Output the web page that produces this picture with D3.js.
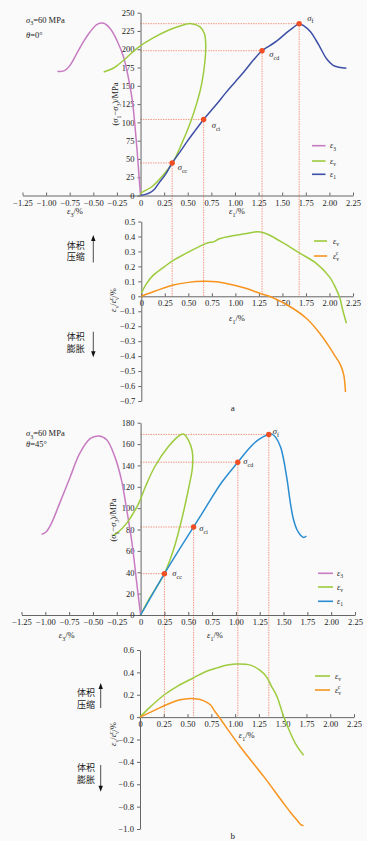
<!DOCTYPE html>
<html><head><meta charset="utf-8">
<script src="https://cdn.jsdelivr.net/npm/d3@7"></script>
<style>
body{margin:0;background:#fff}
svg{display:block}
text{font-family:"Liberation Serif","Times New Roman",serif;fill:#1a1a1a}
.cjk{font-family:"Noto Sans CJK SC",sans-serif}
</style>
</head><body>
<script>
// ---------- DATA ----------
const xTicksFull = [-1.25,-1,-0.75,-0.5,-0.25,0,0.25,0.5,0.75,1,1.25,1.5,1.75,2,2.25];
const xTicksPos  = [0,0.25,0.5,0.75,1,1.25,1.5,1.75,2,2.25];
const yTicksA1 = [0,25,50,75,100,125,150,175,200,225,250];
const yTicksA2 = [-0.7,-0.6,-0.5,-0.4,-0.3,-0.2,-0.1,0,0.1,0.2,0.3,0.4,0.5];
const yTicksB1 = [0,20,40,60,80,100,120,140,160,180];
const yTicksB2 = [-1,-0.8,-0.6,-0.4,-0.2,0,0.2,0.4,0.6];

const keyNames = ["cc","ci","cd","f"];

// (a) theta = 0
const aKeyStrain = [0.335, 0.668, 1.287, 1.68];
const aKeyStress = [44.5, 104, 198, 235];
const aE1 = [[0,0],[0.05,1.5],[0.1,4],[0.15,9],[0.2,18],[0.27,30],[0.335,44.5],[0.42,60],[0.5,75],[0.58,89],[0.668,104],[0.8,124],[0.9,140],[1.0,155],[1.1,170],[1.2,186],[1.287,198],[1.37,205],[1.44,211],[1.55,223],[1.62,230],[1.68,235],[1.73,232],[1.8,224],[1.86,212],[1.9,203],[1.97,187],[2.04,178],[2.1,175.5],[2.18,174]];
const aEv = [[0,0],[0.005,3],[0.12,12],[0.225,25.7],[0.34,44.8],[0.436,71],[0.524,98.6],[0.595,126],[0.648,153],[0.683,185],[0.69,208],[0.676,221.5],[0.63,230.5],[0.54,235],[0.47,234],[0.295,226],[0.12,214.6],[-0.02,203],[-0.18,185],[-0.29,174],[-0.39,169]];
const aE3 = [[0,0],[-0.013,21],[-0.034,57.6],[-0.058,94],[-0.087,130],[-0.13,162],[-0.18,189.5],[-0.25,212],[-0.32,228],[-0.39,235.5],[-0.46,234],[-0.535,223.6],[-0.606,210],[-0.676,194],[-0.747,178],[-0.8,171],[-0.85,169.5],[-0.88,170]];
const aVol = [[0,0.02],[0.05,0.08],[0.125,0.14],[0.25,0.2],[0.34,0.24],[0.5,0.295],[0.66,0.345],[0.72,0.36],[0.76,0.362],[0.83,0.385],[0.97,0.405],[1.1,0.418],[1.24,0.432],[1.3,0.425],[1.36,0.41],[1.5,0.36],[1.68,0.29],[1.86,0.22],[2.0,0.13],[2.07,0.05],[2.11,-0.01],[2.14,-0.09],[2.18,-0.18]];
const aCrack = [[0,0],[0.15,0.035],[0.34,0.075],[0.5,0.093],[0.66,0.1],[0.8,0.097],[0.94,0.08],[1.1,0.055],[1.26,0.02],[1.4,-0.01],[1.61,-0.08],[1.76,-0.15],[1.9,-0.25],[2.0,-0.34],[2.06,-0.4],[2.11,-0.45],[2.15,-0.52],[2.17,-0.64]];

// (b) theta = 45
const bKeyStrain = [0.25, 0.556, 1.02, 1.345];
const bKeyStress = [38.7, 82.4, 143, 169];
const bE1 = [[0,0],[0.1,15.5],[0.25,38.7],[0.4,60.5],[0.556,82.4],[0.7,103],[0.85,124],[1.02,143],[1.12,154],[1.22,163],[1.29,167],[1.345,169],[1.38,169.3],[1.42,166],[1.47,157],[1.5,146],[1.54,125],[1.57,106],[1.6,91],[1.64,80],[1.68,74.5],[1.71,72.5],[1.74,74]];
const bEv = [[0,0],[0.09,15],[0.25,38.7],[0.345,61],[0.43,89],[0.5,117],[0.545,139],[0.54,154],[0.5,164],[0.45,169.4],[0.415,168.5],[0.29,157.5],[0.15,139],[0.05,120],[-0.02,104.5],[-0.145,86],[-0.25,76.5],[-0.29,74.5]];
const bE3 = [[0,0],[-0.04,29.6],[-0.09,67],[-0.145,98],[-0.2,126],[-0.27,148],[-0.356,164],[-0.44,167.5],[-0.53,165],[-0.64,151],[-0.74,129],[-0.85,104.5],[-0.935,86],[-0.99,78],[-1.04,75.5]];
const bVol = [[0,0],[0.1,0.085],[0.256,0.2],[0.4,0.28],[0.56,0.35],[0.7,0.41],[0.81,0.44],[0.92,0.465],[1.02,0.475],[1.16,0.465],[1.26,0.42],[1.33,0.36],[1.38,0.28],[1.44,0.185],[1.51,0.005],[1.58,-0.14],[1.65,-0.26],[1.72,-0.34]];
const bCrack = [[0,0],[0.1,0.04],[0.25,0.1],[0.42,0.155],[0.5,0.165],[0.6,0.163],[0.66,0.15],[0.74,0.11],[0.78,0.06],[0.84,-0.01],[1.05,-0.26],[1.3,-0.53],[1.51,-0.77],[1.6,-0.87],[1.65,-0.92],[1.69,-0.96],[1.72,-0.97]];

// ---------- STYLE ----------
const C = {pink:"#c77cc2", green:"#9dcb3e", blueA:"#3d4fa6", blueB:"#2a8dd2", orange:"#f7941e", dash:"#f07a5a", dot:"#f04e23", axis:"#555"};

const svg = d3.select("body").append("svg").attr("width",376).attr("height",849);
svg.append("rect").attr("width",367).attr("height",841).attr("fill","#fafafa");

const lineGen = (x,y) => d3.line().x(d=>x(d[0])).y(d=>y(d[1])).curve(d3.curveCatmullRom.alpha(0.5));

function rich(g, x, y, segs, size, anchor){
  const t = g.append("text").attr("x",x).attr("y",y).attr("font-size",size).attr("text-anchor",anchor||"start");
  let cur = 0;
  segs.forEach(s=>{
    const sp = t.append("tspan");
    let off = 0, fs = size;
    if(s.sub){off = size*0.3; fs = size*0.7;}
    if(s.sup){off = -size*0.4; fs = size*0.7;}
    sp.attr("dy", off-cur).attr("font-size",fs);
    if(s.dx) sp.attr("dx", s.dx);
    if(s.i) sp.attr("font-style","italic");
    sp.text(s.t);
    cur = off;
  });
  return t;
}
const eps = (sub)=>[{t:"ε",i:true},{t:sub,sub:true}];
const epsC = [{t:"ε",i:true},{t:"v",sub:true},{t:"c",sup:true,dx:-3.2}];

function fmtX(d){ return d===0 ? "0" : d3.format(".2f")(d); }

function axes(x, y, xTicks, yTicks, fx, fy){
  const gx = svg.append("g").attr("transform",`translate(0,${y(0)})`)
    .call(d3.axisBottom(x).tickValues(xTicks).tickFormat(fx).tickSizeInner(-3).tickSizeOuter(0).tickPadding(4));
  const gy = svg.append("g").attr("transform",`translate(${x(0)},0)`)
    .call(d3.axisLeft(y).tickValues(yTicks).tickFormat(fy).tickSizeInner(3).tickSizeOuter(0).tickPadding(3));
  [gx,gy].forEach(g=>{
    g.selectAll("path,line").attr("stroke",C.axis).attr("stroke-width",0.9);
    g.selectAll("text").attr("font-size",8.5).attr("fill","#1a1a1a").style("font-family",'"Liberation Serif",serif');
  });
}

function curve(data, x, y, color){
  svg.append("path").datum(data).attr("d",lineGen(x,y)).attr("fill","none").attr("stroke",color).attr("stroke-width",1.5);
}

function keyLines(strain, stress, x, y, yLow){
  strain.forEach((s,i)=>{
    svg.append("line").attr("x1",x(0)).attr("x2",x(s)).attr("y1",y(stress[i])).attr("y2",y(stress[i]))
      .attr("stroke",C.dash).attr("stroke-width",0.8).attr("stroke-dasharray","1.4,1.1");
    svg.append("line").attr("x1",x(s)).attr("x2",x(s)).attr("y1",y(stress[i])).attr("y2",yLow)
      .attr("stroke",C.dash).attr("stroke-width",0.8).attr("stroke-dasharray","1.4,1.1");
  });
}
function keyDots(strain, stress, x, y, labelPos){
  strain.forEach((s,i)=>{
    svg.append("circle").attr("cx",x(s)).attr("cy",y(stress[i])).attr("r",2.7).attr("fill",C.dot);
    rich(svg, labelPos[i][0], labelPos[i][1], [{t:"σ",i:true},{t:keyNames[i],sub:true}], 8.5);
  });
}

function legend(items, x1, x2, tx){
  items.forEach(it=>{
    svg.append("line").attr("x1",x1).attr("x2",x2).attr("y1",it.y).attr("y2",it.y).attr("stroke",it.c).attr("stroke-width",1.6);
    rich(svg, tx, it.y+2.5, it.segs, 8);
  });
}

function ytitle(cx, cy, segs){
  const g = svg.append("g").attr("transform",`translate(${cx},${cy}) rotate(-90)`);
  rich(g, 0, 3, segs, 8.5, "middle");
}

function arrow(x, y0, y1){
  const dir = y1<y0 ? -1 : 1;
  svg.append("line").attr("x1",x).attr("x2",x).attr("y1",y0).attr("y2",y1-dir*5).attr("stroke","#222").attr("stroke-width",0.8);
  svg.append("path").attr("d",`M${x},${y1} L${x-2.2},${y1-dir*6} L${x+2.2},${y1-dir*6} Z`).attr("fill","#111");
}
function cjk(x, y, t){
  svg.append("text").attr("class","cjk").attr("x",x).attr("y",y).attr("font-size",9).attr("text-anchor","middle").text(t);
}

const sigTitle = [{t:"("},{t:"σ",i:true},{t:"1",sub:true},{t:"−"},{t:"σ",i:true},{t:"3",sub:true},{t:")/MPa"}];
const volTitle = [{t:"ε",i:true},{t:"v",sub:true},{t:"/"},{t:"ε",i:true},{t:"v",sub:true},{t:"c",sup:true,dx:-3.2},{t:"/%"}];

// ================= PANEL (a) =================
const xA1 = d3.scaleLinear([-1.25,2.25],[22.5,353]);
const yA1 = d3.scaleLinear([0,250],[195.5,12.7]);
const xA2 = d3.scaleLinear([0,2.25],[141.3,353]);
const yA2 = d3.scaleLinear([-0.7,0.5],[401,221.5]);

keyLines(aKeyStrain, aKeyStress, xA1, yA1, yA2(0));
axes(xA1, yA1, xTicksFull, yTicksA1, fmtX, d3.format("d"));
curve(aE3, xA1, yA1, C.pink);
curve(aEv, xA1, yA1, C.green);
curve(aE1, xA1, yA1, C.blueA);
keyDots(aKeyStrain, aKeyStress, xA1, yA1, [[177.7,170],[211.7,128],[269.3,57],[307.3,20.5]]);
legend([{y:145.7,c:C.pink,segs:eps("3")},{y:161,c:C.green,segs:eps("v")},{y:174.3,c:C.blueA,segs:eps("1")}], 312, 325.5, 330);
rich(svg, 26, 22.5, [{t:"σ",i:true},{t:"3",sub:true},{t:"=60  MPa"}], 8.5);
rich(svg, 26, 37.5, [{t:"θ",i:true},{t:"=0°"}], 8.5);
ytitle(115, 104, sigTitle);
rich(svg, 75, 214, eps("3").concat([{t:"/%"}]), 8.5, "middle");
rich(svg, 237, 214, eps("1").concat([{t:"/%"}]), 8.5, "middle");

axes(xA2, yA2, xTicksPos, yTicksA2, fmtX, d=> d===0?"0":d3.format(".1f")(d));
curve(aVol, xA2, yA2, C.green);
curve(aCrack, xA2, yA2, C.orange);
legend([{y:241,c:C.green,segs:eps("v")},{y:256,c:C.orange,segs:epsC}], 314, 327, 333);
ytitle(113, 300, volTitle);
rich(svg, 237, 321, eps("1").concat([{t:"/%"}]), 8.5, "middle");
cjk(75.7, 248.5, "体积"); cjk(75.7, 260, "压缩");
cjk(75.7, 340, "体积"); cjk(75.7, 352, "膨胀");
arrow(93.3, 262.5, 235); arrow(93.3, 331.7, 357.3);
svg.append("text").attr("x",232.7).attr("y",410.5).attr("font-size",9).attr("text-anchor","middle").text("a");

// ================= PANEL (b) =================
const xB1 = d3.scaleLinear([-1.25,2.25],[21.5,355]);
const yB1 = d3.scaleLinear([0,180],[615,422.7]);
const xB2 = d3.scaleLinear([0,2.25],[140,354]);
const yB2 = d3.scaleLinear([-1,0.6],[829,650]);

keyLines(bKeyStrain, bKeyStress, xB1, yB1, yB2(0));
axes(xB1, yB1, xTicksFull, yTicksB1, fmtX, d3.format("d"));
curve(bE3, xB1, yB1, C.pink);
curve(bEv, xB1, yB1, C.green);
curve(bE1, xB1, yB1, C.blueB);
keyDots(bKeyStrain, bKeyStress, xB1, yB1, [[172.3,576],[199.3,531],[243.3,464],[272.7,434]]);
legend([{y:573.3,c:C.pink,segs:eps("3")},{y:587,c:C.green,segs:eps("v")},{y:601.3,c:C.blueB,segs:eps("1")}], 318, 333, 337);
rich(svg, 26, 436, [{t:"σ",i:true},{t:"3",sub:true},{t:"=60  MPa"}], 8.5);
rich(svg, 26, 447, [{t:"θ",i:true},{t:"=45°"}], 8.5);
ytitle(113.3, 520, sigTitle);
rich(svg, 66.7, 638, eps("3").concat([{t:"/%"}]), 8.5, "middle");
rich(svg, 215, 638, eps("1").concat([{t:"/%"}]), 8.5, "middle");

axes(xB2, yB2, xTicksPos, yTicksB2, fmtX, d=> d===0?"0":d3.format(".1f")(d));
curve(bVol, xB2, yB2, C.green);
curve(bCrack, xB2, yB2, C.orange);
legend([{y:676,c:C.green,segs:eps("v")},{y:690,c:C.orange,segs:epsC}], 315, 330, 335);
ytitle(113, 734, volTitle);
rich(svg, 246.7, 738, eps("1").concat([{t:"/%"}]), 8.5, "middle");
cjk(86, 696, "体积"); cjk(86, 707.5, "压缩");
cjk(86, 771, "体积"); cjk(86, 782.5, "膨胀");
arrow(100.7, 708, 683); arrow(100.7, 765, 791.7);
svg.append("text").attr("x",232.7).attr("y",839).attr("font-size",9).attr("text-anchor","middle").text("b");
</script>
</body></html>
